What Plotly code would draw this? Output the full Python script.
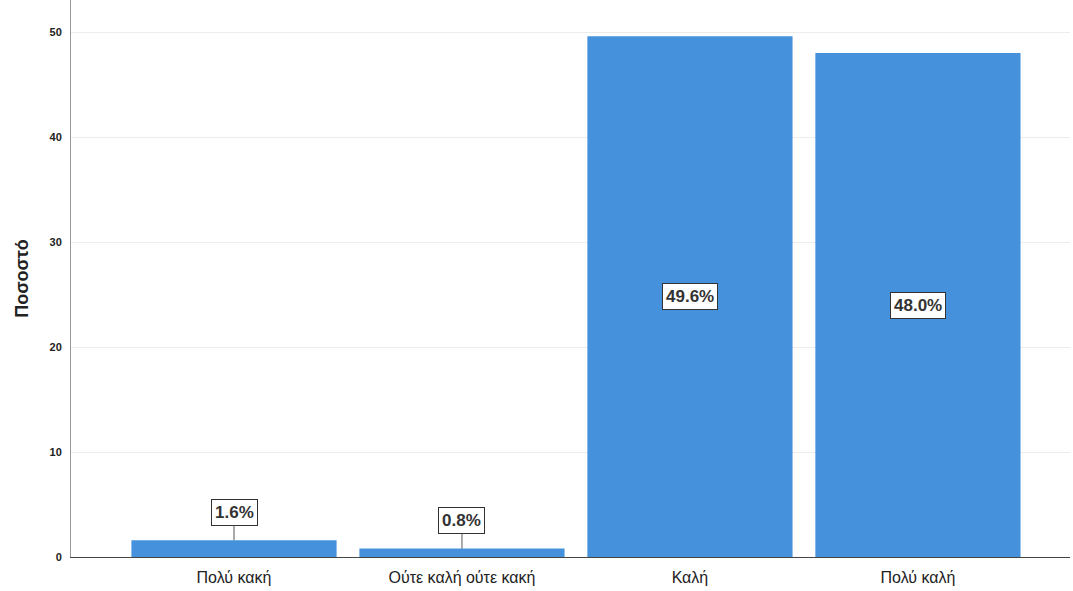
import plotly.graph_objects as go

categories = ["Πολύ κακή", "Ούτε καλή ούτε κακή", "Καλή", "Πολύ καλή"]
percentages = [1.6, 0.8, 49.6, 48.0]
y_ticks = [0, 10, 20, 30, 40, 50]

bar_color = "#4591db"
label_font = dict(family="Liberation Sans, Arial", size=17, color="#333333")

fig = go.Figure(
    go.Bar(
        x=list(range(len(categories))),
        y=percentages,
        marker=dict(color=bar_color, line=dict(width=0)),
        width=0.9,
        hoverinfo="skip",
    )
)

# value labels: in the middle of tall bars, above short bars with a short leader
for i, v in enumerate(percentages):
    label = f"{v:.1f}%"
    if v > 10:
        fig.add_annotation(
            x=i, y=v / 2, text=f"<b>{label}</b>", showarrow=False,
            bgcolor="white", bordercolor="#333333", borderwidth=1, borderpad=3,
            font=label_font,
        )
    else:
        fig.add_annotation(
            x=i, y=v, ax=0, ay=-28, axref="pixel", ayref="pixel",
            text=f"<b>{label}</b>", showarrow=True, arrowhead=0,
            arrowwidth=1, arrowcolor="#555555", standoff=0,
            bgcolor="white", bordercolor="#333333", borderwidth=1, borderpad=3,
            font=label_font,
        )

fig.update_layout(
    width=1073, height=591,
    margin=dict(l=71, r=3, t=0, b=34),
    paper_bgcolor="white", plot_bgcolor="white",
    showlegend=False,
    font=dict(family="Liberation Sans, Arial", color="#222222"),
    xaxis=dict(
        tickmode="array", tickvals=list(range(len(categories))), ticktext=categories,
        range=[-0.715, 3.667], showgrid=False, ticks="",
        showline=True, linecolor="#444444", linewidth=1,
        tickfont=dict(size=16, color="#222222"),
        ticklabelstandoff=6,
        zeroline=False,
    ),
    yaxis=dict(
        range=[0, 53.05], tickvals=y_ticks,
        ticktext=[f"<b>{t}</b>" for t in y_ticks],
        showgrid=True, gridcolor="#ececec", gridwidth=1,
        showline=True, linecolor="#9a9a9a", linewidth=1,
        ticks="", zeroline=False, ticklabelstandoff=6,
        tickfont=dict(size=11, color="#222222", family="Liberation Sans, Arial"),
        title=dict(text="<b>Ποσοστό</b>", font=dict(size=18, color="#222222"), standoff=16),
    ),
)

fig.write_html("out.html")
